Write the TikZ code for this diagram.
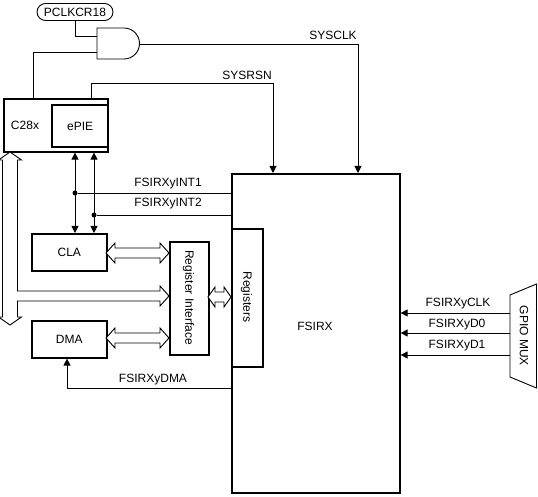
\documentclass[tikz,border=0pt]{standalone}
\usepackage{fontspec}
\setmainfont{Liberation Sans}
\usetikzlibrary{arrows.meta}
\begin{document}
\begin{tikzpicture}[x=1pt,y=-1pt,
  every node/.style={font=\fontsize{12}{14}\selectfont},
  box/.style={draw, line width=1.6pt, inner sep=0pt, anchor=north west},
  lbl/.style={inner sep=0pt},
  wire/.style={line width=0.9pt},
  arr/.style={wire, -{Triangle[length=7pt,width=7pt]}},
  darr/.style={wire, {Triangle[length=7pt,width=7pt]}-{Triangle[length=7pt,width=7pt]}},
  hollow/.style={draw, line width=0.9pt, fill=white, line join=miter},
  dot/.style={circle, fill, inner sep=0pt, minimum size=5pt}]
\useasboundingbox (0,0) rectangle (538,497);

% blocks
\node[draw, line width=0.9pt, rounded corners=8.5pt, minimum width=76pt, minimum height=17pt, inner sep=0pt] (pclk) at (75,12) {PCLKCR18};
\draw[line width=0.9pt] (97,28) -- (124,28) arc (-90:90:15.5) -- (97,59) -- cycle;
\coordinate (gin1) at (97,36);
\coordinate (gin2) at (97,52);
\coordinate (gout) at (139.5,44);

\node[box, minimum width=104pt, minimum height=53pt] (c28) at (3,98) {};
\node[lbl] (c28lbl) at (25,125) {C28x};
\node[box, line width=2.2pt, minimum width=56pt, minimum height=42pt] (epie) at (51,104) {ePIE};

\node[box, minimum width=168pt, minimum height=319pt] (fsirx) at (231,173) {};
\node[lbl] (fsirxlbl) at (315,326) {FSIRX};
\node[box, minimum width=31pt, minimum height=138pt] (regs) at (231,228) {};
\node[lbl, rotate=-90] (regslbl) at (246.5,297) {Registers};
\node[box, minimum width=39pt, minimum height=113pt] (ri) at (169,241) {};
\node[lbl, rotate=-90] (rilbl) at (188.5,297.5) {Register Interface};
\node[box, minimum width=75pt, minimum height=37pt] (cla) at (31,233) {CLA};
\node[box, minimum width=75pt, minimum height=37pt] (dma) at (31,320) {DMA};

\draw[line width=0.9pt] (510,295) -- (536.5,284) -- (536.5,388) -- (510,377) -- cycle;
\node[lbl, rotate=-90] (gpio) at (524,336) {GPIO MUX};
\coordinate (gp1) at (510,313);
\coordinate (gp2) at (510,333);
\coordinate (gp3) at (510,355);

% clock / reset
\coordinate (c28top) at (33,98);
\coordinate (rsnsrc) at (91,98);
\coordinate (fclk) at (358,173);
\coordinate (frsn) at (273,173);
\draw[wire] (pclk.south) |- (gin1);
\draw[wire] (c28top) |- (gin2);
\draw[arr] (gout) -| (fclk);
\draw[arr] (rsnsrc) -- ++(0,-15) -| (frsn);
\node[lbl] (sysclk) at (333,35) {SYSCLK};
\node[lbl] (sysrsn) at (247,75) {SYSRSN};

% interrupts
\coordinate (v1) at (75,0);
\coordinate (v2) at (94,0);
\draw[darr] (c28.south -| v1) -- (cla.north -| v1);
\draw[darr] (c28.south -| v2) -- (cla.north -| v2);
\node[dot] (d1) at (75,193) {};
\node[dot] (d2) at (94,215) {};
\draw[wire] (fsirx.west |- d1) -- (d1);
\draw[wire] (fsirx.west |- d2) -- (d2);
\node[lbl] (int1) at (168,184) {FSIRXyINT1};
\node[lbl] (int2) at (168,204) {FSIRXyINT2};

% DMA trigger
\coordinate (dmay) at (0,388);
\coordinate (dmax) at (67,0);
\draw[arr] (fsirx.west |- dmay) -| (dma.south -| dmax);
\node[lbl] (dmalbl) at (153,380) {FSIRXyDMA};

% GPIO inputs
\draw[arr] (gp1) -- (fsirx.east |- gp1);
\draw[arr] (gp2) -- (fsirx.east |- gp2);
\draw[arr] (gp3) -- (fsirx.east |- gp3);
\node[lbl] (clk) at (458,304) {FSIRXyCLK};
\node[lbl] (d0) at (457,325) {FSIRXyD0};
\node[lbl] (d1l) at (457,346) {FSIRXyD1};

% hollow bus arrows
\draw[hollow] (106,253) -- (115,243) -- (115,248) -- (160,248) -- (160,243) -- (169,253)
  -- (160,263) -- (160,258) -- (115,258) -- (115,263) -- cycle;
\draw[hollow] (106,338) -- (115,328) -- (115,333) -- (160,333) -- (160,328) -- (169,338)
  -- (160,348) -- (160,343) -- (115,343) -- (115,348) -- cycle;
\draw[hollow] (208,297) -- (215,287) -- (215,292) -- (224,292) -- (224,287) -- (231,297)
  -- (224,307) -- (224,302) -- (215,302) -- (215,307) -- cycle;
\draw[hollow] (10,152) -- (21.5,160) -- (17.5,160) -- (17.5,291) -- (160,291) -- (160,286)
  -- (169,296) -- (160,306) -- (160,301) -- (17.5,301) -- (17.5,317) -- (21.5,317)
  -- (10,325) -- (-1.5,317) -- (2.5,317) -- (2.5,160) -- (-1.5,160) -- cycle;
\end{tikzpicture}
\end{document}
